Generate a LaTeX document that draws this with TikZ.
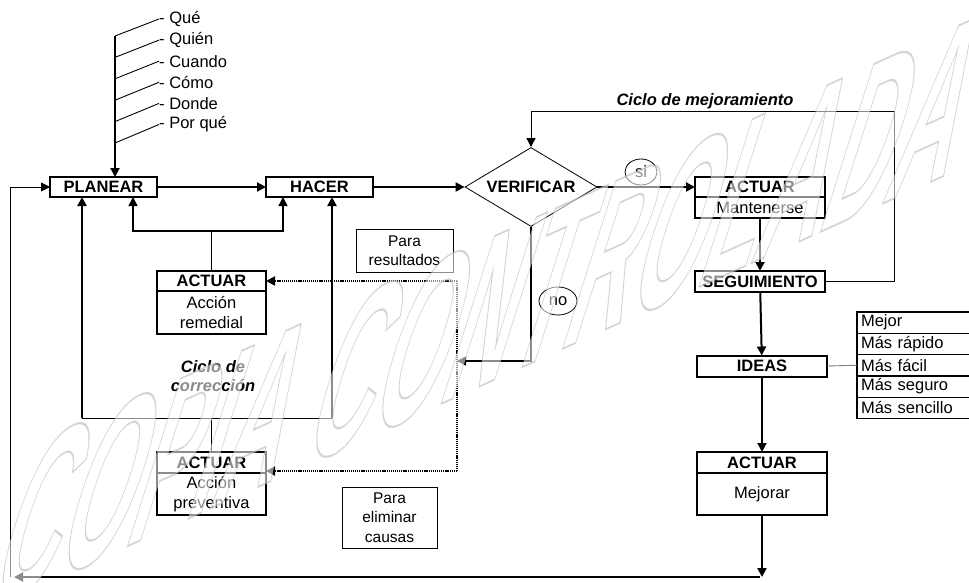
\documentclass[tikz,border=0pt]{standalone}
\usepackage{fontspec}
\setmainfont{Liberation Sans}
\usetikzlibrary{positioning,arrows.meta,shapes.geometric}
\newcommand{\basefont}{\fontsize{16.5}{19.5}\selectfont}
\tikzset{
  box/.style={rectangle, draw, line width=2pt, outer sep=0pt, inner sep=0pt,
    minimum width=107pt, minimum height=20pt, font=\basefont\bfseries},
  sub/.style={box, font=\basefont, align=center},
  note/.style={rectangle, draw, line width=0.8pt, align=center, inner sep=0pt,
    font=\fontsize{15.5}{19.5}\selectfont},
  tag/.style={ellipse, draw, line width=0.8pt, inner sep=0pt, font=\basefont},
  quest/.style={anchor=west, inner sep=0pt, font=\basefont},
  lst/.style={rectangle, draw, line width=1.2pt, outer sep=0pt, inner xsep=4pt,
    inner ysep=0pt, text width=140pt, minimum height=21.3pt, align=left, font=\basefont},
  cyc/.style={inner sep=0pt, font=\basefont\bfseries\itshape},
  tip/.style={-{Triangle[length=9pt,width=9pt]}},
  arrow/.style={tip, line width=2pt},
  mid/.style={line width=1.4pt},
  link/.style={line width=0.9pt},
  dots/.style={line width=1.8pt, dash pattern=on 1.2pt off 0.9pt},
  wm/.style={rotate=24.4, xslant=0.9, yscale=1.9, text=gray!60, text opacity=0.55,
    inner sep=0pt, font=\fontsize{100}{100}\selectfont\bfseries}
}

\begin{document}
\begin{tikzpicture}[x=1pt, y=-1pt]
  \useasboundingbox (0,0) rectangle (969,583);

  % questions for the plan
  \foreach \q [count=\i from 0] in {Qué, Quién, Cuando, Cómo, Donde, Por qué} {
    \node[quest] (q\i) at (159, 19+21.1*\i) {- \q};
    \coordinate (s\i) at (115, 36+21.4*\i);
    \draw[link] (s\i) -- (q\i.west);
  }

  % main cycle
  \node[box] (plan) at (103.5,187) {PLANEAR};
  \node[box] (hacer) at (319.5,187) {HACER};
  \node[diamond, draw, line width=0.8pt, aspect=1.67, minimum width=132pt,
    minimum height=79pt, inner sep=0pt, font=\basefont\bfseries] (verif) at (531,187) {VERIFICAR};

  \node[box, minimum width=130pt] (actm) at (760,187) {ACTUAR};
  \node[sub, minimum width=130pt, minimum height=21pt, below=0pt of actm] (actmb) {Mantenerse};
  \node[box, minimum width=130pt, minimum height=21pt] (seg) at (760,281.5) {SEGUIMIENTO};
  \node[box, minimum width=130pt, minimum height=21pt] (ideas) at (762,366) {IDEAS};
  \node[box, minimum width=130pt, minimum height=21pt] (actj) at (762,462.5) {ACTUAR};
  \node[sub, minimum width=130pt, minimum height=42pt, below=0pt of actj] (actjb) {Mejorar};

  \node[box, minimum width=109pt] (actr) at (211.5,281) {ACTUAR};
  \node[sub, minimum width=109pt, minimum height=43pt, below=0pt of actr] (actrb) {Acción\\remedial};
  \node[box, minimum width=109pt, minimum height=21pt] (actp) at (211.5,462.5) {ACTUAR};
  \node[sub, minimum width=109pt, minimum height=42pt, below=0pt of actp] (actpb) {Acción\\preventiva};

  \node[note, minimum width=97pt, minimum height=43pt] (pres) at (404.5,250.5) {Para\\resultados};
  \node[note, minimum width=95pt, minimum height=61pt] (pelim) at (389.5,517.5) {Para\\eliminar\\causas};

  \node[tag, minimum width=32pt, minimum height=26pt] (si) at (641,172) {si};
  \node[tag, minimum width=38pt, minimum height=28pt] (no) at (558,301) {no};

  \node[cyc] (mejlbl) at (705,101) {Ciclo de mejoramiento};
  \node[cyc, align=center] (corlbl) at (213,376) {Ciclo de\\corrección};

  \node[lst, anchor=north west] (l1) at (857,312) {Mejor};
  \node[lst, below=0pt of l1] (l2) {Más rápido};
  \node[lst, below=0pt of l2] (l3) {Más fácil};
  \node[lst, below=0pt of l3] (l4) {Más seguro};
  \node[lst, below=0pt of l4] (l5) {Más sencillo};

  \coordinate (mejtop) at (894,111);
  \coordinate (botr) at (760,577);
  \coordinate (botl) at (14,577);
  \coordinate (leftb) at (10,577);
  \coordinate (brl) at (133,231);
  \coordinate (brr) at (283,231);
  \coordinate (bl) at (82,418);
  \coordinate (bri) at (332,418);
  \coordinate (nend) at (457,361);
  \coordinate (dtop) at (457,281);
  \coordinate (dbot) at (457,471);

  \draw[arrow] (s0) -- (s0 |- plan.north);
  \draw[arrow] (plan) -- (hacer);
  \draw[arrow] (hacer) -- (verif);
  \draw[arrow] (verif) -- (actm);
  \draw[arrow] (actmb) -- (seg);
  \draw[arrow] (seg) -- (ideas);
  \draw[arrow] (ideas) -- (actj);
  \draw[arrow] (actjb) -- (actjb.south |- botr);
  \draw[arrow] (botr) -- (botl);
  \draw[link, tip] (leftb) |- (plan.west);
  \draw[link, tip] (seg.east) -| (mejtop) -| (verif.north);
  \draw[link, gray] (ideas.east) -- (l3.west);

  % correction cycle
  \draw[link] (actr.north) -- (actr.north |- brl);
  \draw[mid, {Triangle[length=9pt,width=9pt]}-{Triangle[length=9pt,width=9pt]}]
    (brl |- plan.south) -- (brl) -- (brr) -- (brr |- hacer.south);
  \draw[arrow] (bl) -- (bl |- plan.south);
  \draw[arrow] (bri) -- (bri |- hacer.south);
  \draw[link] (bl) -- (bri);
  \draw[link] (actp.north) -- (actp.north |- bl);
  \draw[mid, tip] (verif.south) |- (nend);
  \draw[dots] (dtop) -- (dbot);
  \draw[dots, tip] (dtop) -- (actr.east);
  \draw[dots, tip] (dbot) -- (dbot -| actp.east);

  % watermark
  \node[wm] (wmark) at (492,309) {\special{pdf:literal direct 2 Tr 0.9 w 1 g}COPIA CONTROLADA\special{pdf:literal direct 0 Tr}};
\end{tikzpicture}
\end{document}
